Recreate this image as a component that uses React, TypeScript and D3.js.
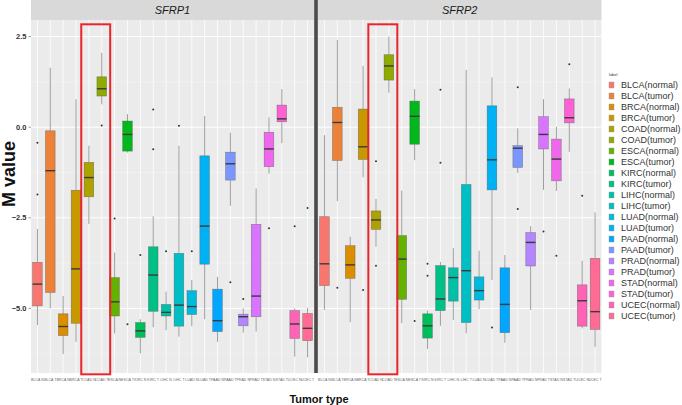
import React from "react";
import * as d3 from "d3";

const categories = [
  "BLCA(normal)", "BLCA(tumor)", "BRCA(normal)", "BRCA(tumor)", "COAD(normal)", "COAD(tumor)",
  "ESCA(normal)", "ESCA(tumor)", "KIRC(normal)", "KIRC(tumor)", "LIHC(normal)", "LIHC(tumor)",
  "LUAD(normal)", "LUAD(tumor)", "PAAD(normal)", "PAAD(tumor)", "PRAD(normal)", "PRAD(tumor)",
  "STAD(normal)", "STAD(tumor)", "UCEC(normal)", "UCEC(tumor)",
];
const tickLabels = [
  "BLCA N", "BLCA T", "BRCA N", "BRCA T", "COAD N", "COAD T", "ESCA N", "ESCA T", "KIRC N", "KIRC T",
  "LIHC N", "LIHC T", "LUAD N", "LUAD T", "PAAD N", "PAAD T", "PRAD N", "PRAD T", "STAD N", "STAD T",
  "UCEC N", "UCEC T",
];
const panelNames = ["SFRP1", "SFRP2"];
const yTicks = [2.5, 0, -2.5, -5];
const yMinor = [1.25, -1.25, -3.75, -6.25];

// SFRP1 box statistics
const sfrp1Lower = [-5.46, -5.0, -6.26, -5.92, -2.67, 0.63, -5.69, -0.7, -6.24, -5.52, -5.6, -5.78, -5.49, -5.3, -5.92, -2.17, -5.67, -5.64, -1.28, -0.44, -6.33, -6.35];
const sfrp1Q1 = [-4.93, -4.56, -5.75, -5.41, -1.92, 0.86, -5.21, -0.66, -5.8, -5.08, -5.21, -5.49, -5.17, -3.78, -5.64, -1.46, -5.48, -5.23, -1.09, 0.15, -5.83, -5.89];
const sfrp1Median = [-4.33, -1.2, -5.5, -3.91, -1.39, 1.06, -4.82, -0.2, -5.62, -4.08, -5.11, -4.91, -4.95, -2.73, -5.34, -1.01, -5.23, -4.66, -0.6, 0.23, -5.43, -5.55];
const sfrp1Q3 = [-3.73, -0.1, -5.15, -1.74, -0.97, 1.39, -4.15, 0.17, -5.39, -3.3, -4.89, -3.48, -4.51, -0.79, -4.47, -0.69, -5.16, -2.68, -0.14, 0.61, -5.06, -5.14];
const sfrp1Upper = [-2.81, 1.64, -4.66, 0.77, -0.51, 2.05, -3.46, 0.36, -5.3, -2.46, -4.54, -0.51, -4.22, 0.31, -4.13, -0.15, -5.0, -1.69, 0.27, 1.05, -5.0, -4.98];
const sfrp1Outliers = [[-0.43, -1.86], [], [], [], [], [0.05], [-2.52], [-5.44], [-3.53], [0.49, -0.61], [-3.42], [0.04], [-3.42], [], [], [-4.28], [-4.74], [], [-2.79], [], [-2.73], [-2.23]];

// SFRP2 box statistics
const sfrp2Lower = [-5.04, -2.04, -5.38, -1.38, -3.3, 0.95, -5.41, -0.91, -6.12, -5.48, -5.32, -5.69, -5.02, -4.22, -5.95, -1.26, -5.04, -1.73, -1.76, -0.68, -5.55, -6.06];
const sfrp2Q1 = [-4.37, -0.92, -4.17, -0.89, -2.82, 1.3, -4.75, -0.47, -5.82, -5.06, -4.8, -5.39, -4.77, -1.73, -5.67, -1.11, -3.83, -0.6, -1.48, 0.12, -5.49, -5.58];
const sfrp2Median = [-3.77, 0.13, -3.8, -0.54, -2.56, 1.69, -3.64, 0.3, -5.48, -4.74, -4.15, -3.96, -4.51, -0.9, -4.89, -0.58, -3.18, -0.2, -0.88, 0.26, -4.79, -5.09];
const sfrp2Q3 = [-2.47, 0.55, -3.27, 0.5, -2.31, 2.0, -2.99, 0.72, -5.15, -3.82, -3.88, -1.58, -4.13, 0.59, -3.88, -0.51, -2.91, 0.29, -0.33, 0.78, -4.35, -3.62];
const sfrp2Upper = [-0.22, 2.41, -3.02, 1.69, -1.98, 2.5, -1.75, 1.05, -5.06, -3.72, -3.34, 1.58, -3.41, 1.37, -3.53, -0.03, -2.73, 0.77, 0.01, 1.07, -3.69, -2.35];
const sfrp2Outliers = [[], [-4.43], [], [-4.49], [-0.94, -3.82], [], [], [-5.35], [-3.77, -4.1], [-0.98, 1.03], [], [], [], [-5.53], [], [-2.26, 1.1], [], [-2.88], [-3.55], [1.74], [-1.89], []];

const highlighted = ["COAD(normal)", "COAD(tumor)"];

// ggplot2-style hue palette (polar Luv)
function hclLuv(h: number, c: number, l: number): string {
  const hr = (h * Math.PI) / 180;
  const U = c * Math.cos(hr);
  const V = c * Math.sin(hr);
  const Y = l > 8 ? 100 * Math.pow((l + 16) / 116, 3) : (100 * l) / 903.3;
  const un = 0.1978398, vn = 0.4683363;
  const u = U / (13 * l) + un;
  const v = V / (13 * l) + vn;
  const X = (Y * 9 * u) / (4 * v);
  const Z = (Y * (12 - 3 * u - 20 * v)) / (4 * v);
  const x = X / 100, y = Y / 100, z = Z / 100;
  const lin = [
    3.240479 * x - 1.53715 * y - 0.498535 * z,
    -0.969256 * x + 1.875992 * y + 0.041556 * z,
    0.055648 * x - 0.204043 * y + 1.057311 * z,
  ];
  const g = lin.map((t) => {
    const s = t <= 0.0031308 ? 12.92 * t : 1.055 * Math.pow(t, 1 / 2.4) - 0.055;
    return Math.round(Math.max(0, Math.min(1, s)) * 255);
  });
  return d3.rgb(g[0], g[1], g[2]).formatHex();
}

const colors = categories.map((_, i) => hclLuv(15 + (i * 360) / categories.length, 100, 65));
const color = d3.scaleOrdinal<string, string>().domain(categories).range(colors);

const W = 682, H = 405;
const plotTop = 20, plotBottom = 373;
const panelX = [[31, 314], [318, 601.5]];
const y = d3.scaleLinear().domain([-6.783, 2.958]).range([plotBottom, plotTop]);

const panelData = [
  { lower: sfrp1Lower, q1: sfrp1Q1, med: sfrp1Median, q3: sfrp1Q3, upper: sfrp1Upper, out: sfrp1Outliers },
  { lower: sfrp2Lower, q1: sfrp2Q1, med: sfrp2Median, q3: sfrp2Q3, upper: sfrp2Upper, out: sfrp2Outliers },
];

const FONT = "'Liberation Sans', Arial, Helvetica, sans-serif";

function Panel({ p }: { p: number }) {
  const [x0, x1] = panelX[p];
  const x = d3.scaleBand<string>().domain(categories).range([x0, x1]).padding(0);
  const step = x.step();
  const bw = step * 0.75;
  const d = panelData[p];
  const hl0 = x(highlighted[0])! - 1.2;
  const hl1 = x(highlighted[1])! + step + 2;
  return (
    <g>
      <rect x={x0} y={0} width={x1 - x0} height={plotTop} fill="#D9D9D9" />
      <text x={(x0 + x1) / 2} y={13.5} textAnchor="middle" fontSize={11} fontStyle="italic" fill="#1A1A1A" fontFamily={FONT}>
        {panelNames[p]}
      </text>
      <rect x={x0} y={plotTop} width={x1 - x0} height={plotBottom - plotTop} fill="#EBEBEB" />
      {yMinor.map((t) => (
        <line key={"mn" + t} x1={x0} x2={x1} y1={y(t)} y2={y(t)} stroke="#F5F5F5" strokeWidth={0.5} />
      ))}
      {yTicks.map((t) => (
        <line key={"mj" + t} x1={x0} x2={x1} y1={y(t)} y2={y(t)} stroke="#FFFFFF" strokeWidth={1} />
      ))}
      {categories.map((c) => (
        <line key={"v" + c} x1={x(c)! + step / 2} x2={x(c)! + step / 2} y1={plotTop} y2={plotBottom} stroke="#FFFFFF" strokeWidth={0.8} />
      ))}
      {categories.map((c, i) => {
        const cx = x(c)! + step / 2;
        return (
          <g key={"b" + c}>
            <line x1={cx} x2={cx} y1={y(d.upper[i])} y2={y(d.q3[i])} stroke="#9E9E9E" strokeWidth={1} />
            <line x1={cx} x2={cx} y1={y(d.q1[i])} y2={y(d.lower[i])} stroke="#9E9E9E" strokeWidth={1} />
            <rect x={cx - bw / 2} y={y(d.q3[i])} width={bw} height={y(d.q1[i]) - y(d.q3[i])} fill={color(c)} stroke="#555" strokeOpacity={0.6} strokeWidth={0.6} />
            <line x1={cx - bw / 2} x2={cx + bw / 2} y1={y(d.med[i])} y2={y(d.med[i])} stroke="#3A3A3A" strokeWidth={1.4} />
            {d.out[i].map((o, k) => (
              <circle key={k} cx={cx} cy={y(o)} r={1} fill="#333" />
            ))}
          </g>
        );
      })}
      {categories.map((c, i) => (
        <text key={"t" + c} x={x(c)! + step / 2} y={381} textAnchor="middle" fontSize={3.6} fill="#666" fontFamily={FONT}>
          {tickLabels[i]}
        </text>
      ))}
      <rect x={hl0} y={24.3} width={hl1 - hl0} height={350} fill="none" stroke="#E8262B" strokeWidth={2} />
    </g>
  );
}

export default function App() {
  return (
    <svg width={W} height={H} style={{ position: "absolute", left: 0, top: 0, background: "#fff" }}>
      <rect x={0} y={0} width={W} height={H} fill="#fff" />
      <Panel p={0} />
      <Panel p={1} />
      <rect x={314.3} y={0} width={3.4} height={plotBottom} fill="#2A2A2A" />
      <line x1={316} x2={316} y1={0} y2={plotBottom} stroke="#8A8A8A" strokeWidth={0.7} />
      {yTicks.map((t) => (
        <g key={"yt" + t}>
          <line x1={28.5} x2={31} y1={y(t)} y2={y(t)} stroke="#555" strokeWidth={0.6} />
          <text x={26.5} y={y(t) + 2.6} textAnchor="end" fontSize={7.5} fontWeight="bold" fill="#333" fontFamily={FONT}>
            {d3.format(".1f")(t)}
          </text>
        </g>
      ))}
      <text transform="translate(15,174) rotate(-90)" textAnchor="middle" fontSize={18} fontWeight="bold" fill="#111" fontFamily={FONT}>
        M value
      </text>
      <text x={319} y={403} textAnchor="middle" fontSize={11} fontWeight="bold" fill="#111" fontFamily={FONT}>
        Tumor type
      </text>
      <text x={609} y={76} fontSize={4} fill="#333" fontFamily={FONT}>label</text>
      {categories.map((c, i) => (
        <g key={"lg" + c}>
          <rect x={609} y={82 + i * 11} width={5} height={6} fill={color(c)} stroke="#999" strokeWidth={0.4} />
          <text x={621} y={88.3 + i * 11} fontSize={9} fill="#333" fontFamily={FONT}>{c}</text>
        </g>
      ))}
    </svg>
  );
}
